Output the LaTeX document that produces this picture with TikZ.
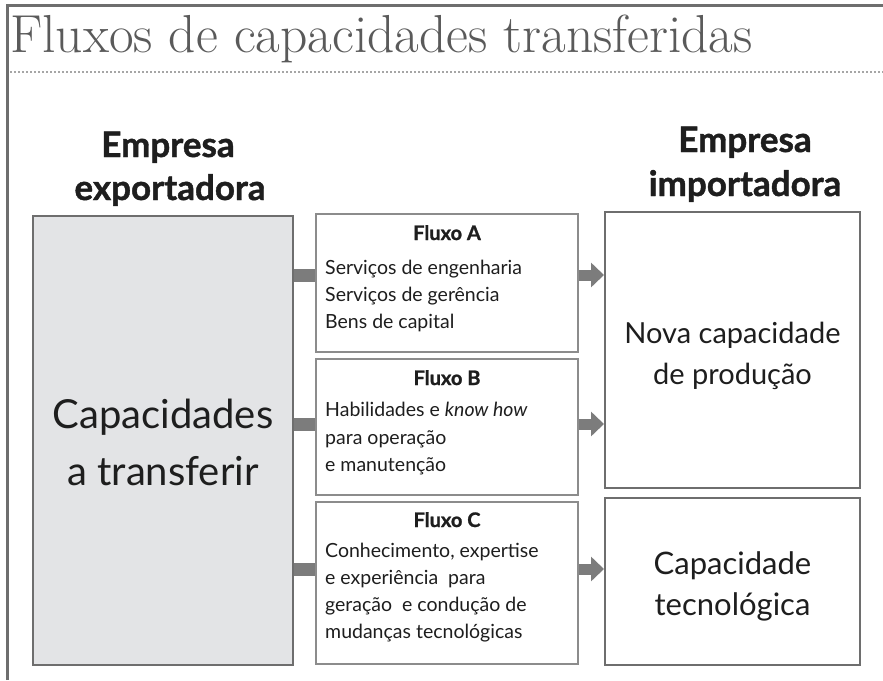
\documentclass[tikz,border=0pt]{standalone}
\usepackage{fontspec}
\setsansfont{Lato}[BoldFeatures={FakeBold=1.2}]
\usetikzlibrary{arrows.meta}
\definecolor{txt}{HTML}{1E1E1E}
\definecolor{ttl}{HTML}{5A5A5A}
\definecolor{bord}{HTML}{6E6E6E}
\definecolor{bordl}{HTML}{8C8C8C}
\definecolor{fillg}{HTML}{E3E4E6}
\definecolor{conn}{HTML}{7C7C7C}
\tikzset{
  bigbox/.style={draw=bord, line width=2pt, inner sep=0pt},
  flowbox/.style={draw=bordl, line width=1.5pt, fill=white, inner sep=0pt},
  stub/.style={draw=conn, line width=13pt},
  flowarrow/.style={draw=conn, line width=11pt, -{Triangle[length=13pt,width=24pt]}},
  head/.style={font=\sffamily\bfseries\fontsize{35}{44}\selectfont, text=txt, anchor=base, inner sep=0pt},
  ftitle/.style={font=\sffamily\bfseries\fontsize{20}{24}\selectfont, text=txt, anchor=base, inner sep=0pt},
  fbody/.style={font=\sffamily\fontsize{19.5}{24}\selectfont, text=txt, anchor=base west, inner sep=0pt},
  bigtxt/.style={font=\sffamily\fontsize{40}{57}\selectfont, text=txt, anchor=base, inner sep=0pt},
  midtxt/.style={font=\sffamily\fontsize{29}{46}\selectfont, text=txt, anchor=base, inner sep=0pt},
  midtxtb/.style={font=\sffamily\fontsize{31}{46}\selectfont, text=txt, anchor=base, inner sep=0pt}
}
\begin{document}
\begin{tikzpicture}[x=1pt,y=-1pt]
\useasboundingbox (0,0) rectangle (883,680);
\fill[white] (0,0) rectangle (883,680);
% frame
\draw[bord, line width=3pt] (7,680) -- (7,5) -- (883,5);
% title
\node[anchor=base west, inner sep=0pt, text=ttl, font=\fontsize{53.5}{56}\selectfont] (title) at (10,52) {Fluxos de capacidades transferidas};
\draw[gray!70, line width=1.5pt, dash pattern=on 2pt off 2pt] (10,72) -- (883,72);
% headers
\node[head] (hexp1) at (168,157) {Empresa};
\node[head] (hexp2) at (170,200) {exportadora};
\node[head] (himp1) at (745,152) {Empresa};
\node[head] (himp2) at (745,196) {importadora};
% boxes
\node[bigbox, fill=fillg, minimum width=260pt, minimum height=449pt] (left) at (163,440) {};
\node[flowbox, minimum width=262pt, minimum height=138pt] (fa) at (447,283) {};
\node[flowbox, minimum width=262pt, minimum height=136pt] (fb) at (447,427) {};
\node[flowbox, minimum width=262pt, minimum height=162pt] (fc) at (447,583) {};
\node[bigbox, fill=white, minimum width=255pt, minimum height=276pt] (rtop) at (732.5,350) {};
\node[bigbox, fill=white, minimum width=255pt, minimum height=167pt] (rbot) at (732.5,581.5) {};
% big texts
\node[bigtxt] (l1) at (left.center |- 0,428) {Capacidades};
\node[bigtxt] (l2) at (left.center |- 0,485) {a transferir};
\node[midtxt] (r1) at (rtop.center |- 0,343) {Nova capacidade};
\node[midtxt] (r2) at (rtop.center |- 0,384) {de produção};
\node[midtxtb] (r3) at (rbot.center |- 0,574) {Capacidade};
\node[midtxtb] (r4) at (rbot.center |- 0,615) {tecnológica};
% flow A
\node[ftitle] (ta) at (fa.center |- 0,240) {Fluxo A};
\node[fbody] (a1) at (325,274) {Serviços de engenharia};
\node[fbody] (a2) at (325,301) {Serviços de gerência};
\node[fbody] (a3) at (325,328) {Bens de capital};
% flow B
\node[ftitle] (tb) at (fb.center |- 0,385) {Fluxo B};
\node[fbody] (b1) at (325,416) {Habilidades e \textit{know how}};
\node[fbody] (b2) at (325,444) {para operação};
\node[fbody] (b3) at (325,471) {e manutenção};
% flow C
\node[ftitle] (tc) at (fc.center |- 0,527) {Fluxo C};
\node[fbody] (c1) at (325,557) {Conhecimento, expertise};
\node[fbody] (c2) at (325,584) {e experiência\ \ para};
\node[fbody] (c3) at (325,611) {geração\ \ e condução de};
\node[fbody] (c4) at (325,638) {mudanças tecnológicas};
% connectors
\coordinate (ya) at (0,275);
\coordinate (yb) at (0,424);
\coordinate (yc) at (0,569);
\draw[stub] (left.east |- ya) -- (fa.west |- ya);
\draw[stub] (left.east |- yb) -- (fb.west |- yb);
\draw[stub] (left.east |- yc) -- (fc.west |- yc);
\draw[flowarrow] (fa.east |- ya) -- (rtop.west |- ya);
\draw[flowarrow] (fb.east |- yb) -- (rtop.west |- yb);
\draw[flowarrow] (fc.east |- yc) -- (rbot.west |- yc);
\end{tikzpicture}
\end{document}
